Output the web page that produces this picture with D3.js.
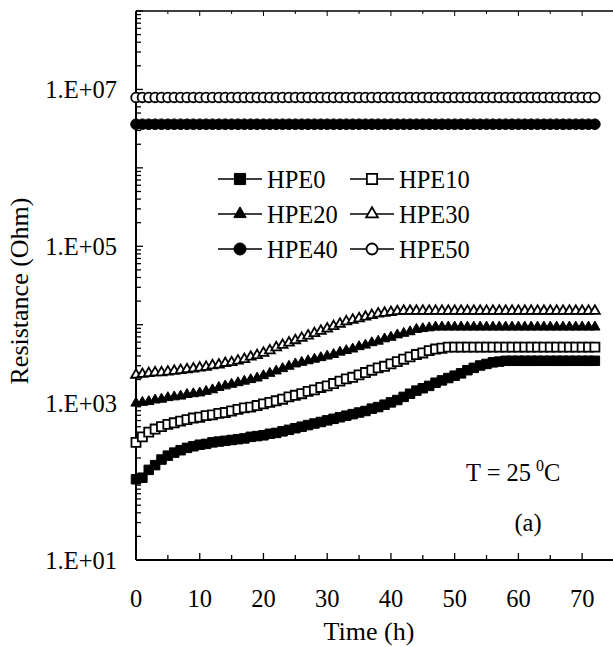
<!DOCTYPE html>
<html>
<head>
<meta charset="utf-8">
<script src="https://cdn.jsdelivr.net/npm/d3@7"></script>
<style>
  body { margin: 0; background: #fff; }
  svg { display: block; font-family: "Liberation Serif", "Times New Roman", serif; }
</style>
</head>
<body>
<div class="chart"></div>
<script>
// time in hours, one reading every hour
const timeHours = d3.range(0, 73)

// resistance readings (Ohm)
const hpe0 = [
    107, 112, 141, 162, 191, 214, 234, 251, 269, 282,
    295, 302, 316, 324, 331, 339, 347, 355, 372, 380,
    389, 407, 417, 437, 457, 479, 501, 525, 550, 575,
    603, 631, 661, 692, 724, 759, 794, 851, 891, 955,
    1023, 1096, 1202, 1318, 1445, 1549, 1660, 1820, 1950, 2089,
    2239, 2399, 2630, 2818, 3020, 3162, 3311, 3388, 3467, 3467,
    3467, 3467, 3467, 3467, 3467, 3467, 3467, 3467, 3467, 3467,
    3467, 3467, 3467
]
const hpe10 = [
    316, 372, 427, 468, 501, 537, 562, 589, 617, 646,
    661, 692, 708, 741, 759, 794, 832, 871, 891, 933,
    977, 1023, 1072, 1122, 1202, 1259, 1318, 1413, 1479, 1585,
    1660, 1778, 1905, 2042, 2138, 2291, 2455, 2630, 2818, 2951,
    3162, 3388, 3631, 3890, 4169, 4365, 4677, 4898, 5012, 5190,
    5190, 5190, 5190, 5190, 5190, 5190, 5190, 5190, 5190, 5190,
    5190, 5190, 5190, 5190, 5190, 5190, 5190, 5190, 5190, 5190,
    5190, 5190, 5190
]
const hpe20 = [
    1000, 1023, 1047, 1096, 1122, 1175, 1202, 1230, 1288, 1318,
    1349, 1413, 1479, 1585, 1660, 1738, 1820, 1905, 1995, 2089,
    2239, 2399, 2570, 2754, 2951, 3162, 3311, 3467, 3631, 3802,
    3981, 4169, 4467, 4677, 4898, 5248, 5495, 5888, 6166, 6607,
    6918, 7413, 7762, 8128, 8710, 8913, 9120, 9333, 9333, 9333,
    9333, 9333, 9333, 9333, 9333, 9333, 9333, 9333, 9333, 9333,
    9333, 9333, 9333, 9333, 9333, 9333, 9333, 9333, 9333, 9333,
    9333, 9333, 9333
]
const hpe30 = [
    2291, 2344, 2399, 2455, 2455, 2512, 2570, 2630, 2692, 2754,
    2818, 2884, 3020, 3090, 3236, 3311, 3467, 3631, 3890, 4074,
    4365, 4677, 5129, 5495, 5888, 6310, 6761, 7244, 7762, 8318,
    8913, 9550, 10233, 10965, 11482, 12023, 12589, 13183, 13804, 14125,
    14454, 14791, 14962, 14962, 14962, 14962, 14962, 14962, 14962, 14962,
    14962, 14962, 14962, 14962, 14962, 14962, 14962, 14962, 14962, 14962,
    14962, 14962, 14962, 14962, 14962, 14962, 14962, 14962, 14962, 14962,
    14962, 14962, 14962
]
const hpe40 = [
    3.6e6, 3.6e6, 3.6e6, 3.6e6, 3.6e6, 3.6e6, 3.6e6, 3.6e6, 3.6e6, 3.6e6,
    3.6e6, 3.6e6, 3.6e6, 3.6e6, 3.6e6, 3.6e6, 3.6e6, 3.6e6, 3.6e6, 3.6e6,
    3.6e6, 3.6e6, 3.6e6, 3.6e6, 3.6e6, 3.6e6, 3.6e6, 3.6e6, 3.6e6, 3.6e6,
    3.6e6, 3.6e6, 3.6e6, 3.6e6, 3.6e6, 3.6e6, 3.6e6, 3.6e6, 3.6e6, 3.6e6,
    3.6e6, 3.6e6, 3.6e6, 3.6e6, 3.6e6, 3.6e6, 3.6e6, 3.6e6, 3.6e6, 3.6e6,
    3.6e6, 3.6e6, 3.6e6, 3.6e6, 3.6e6, 3.6e6, 3.6e6, 3.6e6, 3.6e6, 3.6e6,
    3.6e6, 3.6e6, 3.6e6, 3.6e6, 3.6e6, 3.6e6, 3.6e6, 3.6e6, 3.6e6, 3.6e6,
    3.6e6, 3.6e6, 3.6e6
]
const hpe50 = [
    7.9e6, 7.9e6, 7.9e6, 7.9e6, 7.9e6, 7.9e6, 7.9e6, 7.9e6, 7.9e6, 7.9e6,
    7.9e6, 7.9e6, 7.9e6, 7.9e6, 7.9e6, 7.9e6, 7.9e6, 7.9e6, 7.9e6, 7.9e6,
    7.9e6, 7.9e6, 7.9e6, 7.9e6, 7.9e6, 7.9e6, 7.9e6, 7.9e6, 7.9e6, 7.9e6,
    7.9e6, 7.9e6, 7.9e6, 7.9e6, 7.9e6, 7.9e6, 7.9e6, 7.9e6, 7.9e6, 7.9e6,
    7.9e6, 7.9e6, 7.9e6, 7.9e6, 7.9e6, 7.9e6, 7.9e6, 7.9e6, 7.9e6, 7.9e6,
    7.9e6, 7.9e6, 7.9e6, 7.9e6, 7.9e6, 7.9e6, 7.9e6, 7.9e6, 7.9e6, 7.9e6,
    7.9e6, 7.9e6, 7.9e6, 7.9e6, 7.9e6, 7.9e6, 7.9e6, 7.9e6, 7.9e6, 7.9e6,
    7.9e6, 7.9e6, 7.9e6
]

const seriesNames = ["HPE0", "HPE10", "HPE20", "HPE30", "HPE40", "HPE50"]
const seriesValues = [hpe0, hpe10, hpe20, hpe30, hpe40, hpe50]
const xTicks = [0, 10, 20, 30, 40, 50, 60, 70]
const yTickLabels = ["1.E+01", "1.E+03", "1.E+05", "1.E+07"]
const yTickValues = [1e1, 1e3, 1e5, 1e7]

const width = 613
const height = 647
const plot = { left: 136, top: 11, right: 614, bottom: 560 }
const fontSize = 24.5

const svg = d3.select(".chart").append("svg")
    .attr("width", width)
    .attr("height", height)

const xScale = d3.scaleLinear().domain([0, 75]).range([plot.left, plot.right])
const yScale = d3.scaleLog().domain([1e1, 1e8]).range([plot.bottom, plot.top])

// marker style per series: [symbol, filled, data size, legend size]
const markerStyles = [
    [d3.symbolSquare, true, 90, 125],
    [d3.symbolSquare, false, 82, 105],
    [d3.symbolTriangle, true, 46, 66],
    [d3.symbolTriangle, false, 42, 60],
    [d3.symbolCircle, true, 88, 115],
    [d3.symbolCircle, false, 72, 95]
]

// frame
svg.append("line")
    .attr("x1", plot.left).attr("x2", plot.right)
    .attr("y1", plot.top).attr("y2", plot.top)
    .attr("stroke", "#000").attr("stroke-width", 1.6)
svg.append("line")
    .attr("x1", plot.left).attr("x2", plot.right)
    .attr("y1", plot.bottom).attr("y2", plot.bottom)
    .attr("stroke", "#000").attr("stroke-width", 1.8)
svg.append("line")
    .attr("x1", plot.left).attr("x2", plot.left)
    .attr("y1", plot.top).attr("y2", plot.bottom)
    .attr("stroke", "#000").attr("stroke-width", 2)

// x ticks (inward, bottom and top)
const xMinor = d3.range(0, 76, 5)
xMinor.forEach(function (t) {
    const len = t % 10 === 0 ? 7 : 5
    svg.append("line")
        .attr("x1", xScale(t)).attr("x2", xScale(t))
        .attr("y1", plot.bottom).attr("y2", plot.bottom - len)
        .attr("stroke", "#000").attr("stroke-width", 1.3)
    svg.append("line")
        .attr("x1", xScale(t)).attr("x2", xScale(t))
        .attr("y1", plot.top).attr("y2", plot.top + len - 2)
        .attr("stroke", "#000").attr("stroke-width", 1)
})
svg.selectAll(".xlabel")
    .data(xTicks)
    .enter()
    .append("text")
    .attr("class", "xlabel")
    .attr("x", d => xScale(d))
    .attr("y", 607)
    .attr("text-anchor", "middle")
    .attr("font-size", fontSize)
    .text(d => d)

// y ticks (log, inward)
const yTicksAll = yScale.ticks()
yTicksAll.forEach(function (v) {
    const lead = Math.round(v / Math.pow(10, Math.floor(Math.log10(v) + 1e-9)))
    const len = lead === 1 ? 7 : 5
    svg.append("line")
        .attr("x1", plot.left).attr("x2", plot.left + len)
        .attr("y1", yScale(v)).attr("y2", yScale(v))
        .attr("stroke", "#000").attr("stroke-width", 1.3)
})
svg.selectAll(".ylabel")
    .data(yTickValues)
    .enter()
    .append("text")
    .attr("class", "ylabel")
    .attr("x", 117)
    .attr("y", d => yScale(d))
    .attr("dy", "0.35em")
    .attr("text-anchor", "end")
    .attr("font-size", fontSize)
    .text((d, i) => yTickLabels[i])

// axis titles
svg.append("text")
    .attr("x", 369)
    .attr("y", 640)
    .attr("text-anchor", "middle")
    .attr("font-size", 26)
    .text("Time (h)")
svg.append("text")
    .attr("transform", "translate(28,291) rotate(-90)")
    .attr("text-anchor", "middle")
    .attr("font-size", 26)
    .text("Resistance (Ohm)")

// series
const line = d3.line()
    .x((d, i) => xScale(timeHours[i]))
    .y(d => yScale(d))

for (let s = 0; s < seriesValues.length; s++) {
    const style = markerStyles[s]
    const g = svg.append("g")
    g.append("path")
        .attr("d", line(seriesValues[s]))
        .attr("fill", "none")
        .attr("stroke", "#000")
        .attr("stroke-width", 1.5)
    g.selectAll("path.pt")
        .data(seriesValues[s])
        .enter()
        .append("path")
        .attr("class", "pt")
        .attr("transform", (d, i) => "translate(" + xScale(timeHours[i]) + "," + yScale(d) + ")")
        .attr("d", d3.symbol().type(style[0]).size(style[2]))
        .attr("fill", style[1] ? "#000" : "#fff")
        .attr("stroke", "#000")
        .attr("stroke-width", style[1] ? 1 : 1.8)
}

// legend, 2 columns x 3 rows
const legendCols = [218, 350]
const legendRows = [179, 214, 249]
for (let s = 0; s < seriesNames.length; s++) {
    const style = markerStyles[s]
    const lx = legendCols[s % 2]
    const ly = legendRows[Math.floor(s / 2)]
    svg.append("line")
        .attr("x1", lx).attr("x2", lx + 44)
        .attr("y1", ly).attr("y2", ly)
        .attr("stroke", "#000").attr("stroke-width", 1.6)
    svg.append("path")
        .attr("transform", "translate(" + (lx + 22) + "," + ly + ")")
        .attr("d", d3.symbol().type(style[0]).size(style[3]))
        .attr("fill", style[1] ? "#000" : "#fff")
        .attr("stroke", "#000")
        .attr("stroke-width", style[1] ? 1 : 1.8)
    svg.append("text")
        .attr("x", lx + 49)
        .attr("y", ly)
        .attr("dy", "0.35em")
        .attr("font-size", fontSize)
        .text(seriesNames[s])
}

// annotations
const tLabel = svg.append("text")
    .attr("x", 466)
    .attr("y", 481)
    .attr("font-size", fontSize)
tLabel.append("tspan").text("T = 25")
tLabel.append("tspan").attr("dx", 5).attr("dy", -10).attr("font-size", 16).text("0")
tLabel.append("tspan").attr("dy", 10).text("C")

svg.append("text")
    .attr("x", 528)
    .attr("y", 531)
    .attr("text-anchor", "middle")
    .attr("font-size", fontSize)
    .text("(a)")
</script>
</body>
</html>
